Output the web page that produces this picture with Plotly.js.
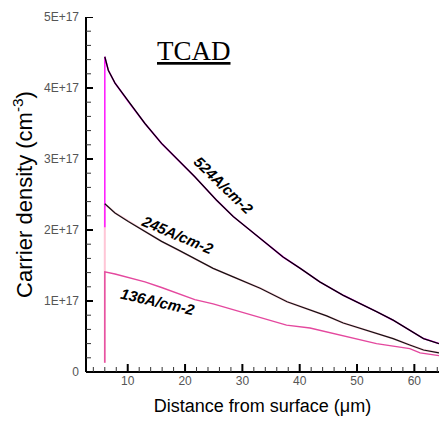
<!DOCTYPE html>
<html>
<head>
<meta charset="utf-8">
<script src="https://cdn.plot.ly/plotly-3.0.1.min.js"></script>
<style>html,body{margin:0;padding:0;background:#fff;}#chart{width:439px;height:427px;}#chart .crisp{shape-rendering:auto !important;}</style>
</head>
<body>
<div id="chart"></div>
<script>
// Distance from surface (um) and carrier density (cm^-3)
const dist524 = [6.0, 6.61, 7.78, 10.1, 13.0, 15.9, 18.8, 21.7, 25.5, 28.4, 31.3, 34.2, 37.1, 40.1, 43.5, 47.6, 50.5, 53.4, 56.3, 59.2, 61.6, 64.3];
const dens524 = [4.44e17, 4.25e17, 4.07e17, 3.81e17, 3.50e17, 3.22e17, 2.99e17, 2.75e17, 2.42e17, 2.19e17, 2.00e17, 1.81e17, 1.62e17, 1.46e17, 1.27e17, 1.08e17, 0.97e17, 0.85e17, 0.73e17, 0.59e17, 0.47e17, 0.40e17];

const dist245 = [6.0, 7.78, 10.1, 13.0, 15.9, 18.8, 21.7, 24.9, 28.4, 33.1, 37.8, 41.8, 44.7, 47.6, 50.5, 53.4, 56.3, 59.2, 61.6, 64.3];
const dens245 = [2.37e17, 2.24e17, 2.12e17, 1.98e17, 1.84e17, 1.72e17, 1.60e17, 1.46e17, 1.34e17, 1.18e17, 0.99e17, 0.88e17, 0.79e17, 0.69e17, 0.62e17, 0.55e17, 0.47e17, 0.38e17, 0.31e17, 0.27e17];

const dist136 = [6.0, 7.78, 10.1, 13.0, 15.9, 18.8, 21.7, 24.9, 31.9, 37.7, 41.8, 47.6, 53.4, 59.2, 61.0, 64.3];
const dens136 = [1.41e17, 1.38e17, 1.33e17, 1.27e17, 1.19e17, 1.11e17, 1.02e17, 0.96e17, 0.80e17, 0.66e17, 0.62e17, 0.51e17, 0.40e17, 0.33e17, 0.27e17, 0.23e17];

// Density just before the surface step at x = 6 um
const surfaceX = 6.0;
const rise524 = 2.04e17;
const rise245 = 0.13e17;
const rise136 = 0.13e17;

const labels = ['524A/cm-2', '245A/cm-2', '136A/cm-2'];

// Axis tick values
const xMajorTicks = [10, 20, 30, 40, 50, 60];
const yMajorTicks = [0, 1e17, 2e17, 3e17, 4e17, 5e17];
const yTickText = ['0', '1E+17', '2E+17', '3E+17', '4E+17', '5E+17'];
const xRange = [2.72, 64.3];
const yRange = [0, 5e17];

function withRise(d, v, r) {
  return {x: [surfaceX].concat(d), y: [r].concat(v)};
}
const s524 = withRise(dist524, dens524, rise524);
const s245 = withRise(dist245, dens245, rise245);
const s136 = withRise(dist136, dens136, rise136);

const traces = [
  {x: s245.x, y: s245.y, mode: 'lines', line: {color: '#ffc6d6', width: 2.0}, name: labels[1] + ' (sim)'},
  {x: s136.x, y: s136.y, mode: 'lines', line: {color: '#e4489e', width: 1.4}, name: labels[2]},
  {x: s524.x, y: s524.y, mode: 'lines', line: {color: '#ff22ff', width: 1.6}, name: labels[0] + ' (sim)'},
  {x: dist524, y: dens524, mode: 'lines', line: {color: '#000', width: 1.3}, name: labels[0]},
  {x: dist245, y: dens245, mode: 'lines', line: {color: '#111', width: 1.2}, name: labels[1]}
];

// Axis frame and tick marks as shapes (built from the tick arrays)
const plotW = 353, plotH = 355;
const shapes = [
  {type: 'line', xref: 'paper', yref: 'paper', x0: 0, x1: 1, y0: 0, y1: 0, line: {color: '#000', width: 2}},
  {type: 'line', xref: 'paper', yref: 'paper', x0: 0, x1: 0, y0: 0, y1: 1, line: {color: '#000', width: 2}}
];
xMajorTicks.forEach(function(v) {
  shapes.push({type: 'line', xref: 'x', yref: 'paper', x0: v, x1: v, y0: 0, y1: 8 / plotH, line: {color: '#000', width: 2}});
});
for (let v = 4; v < xRange[1]; v += 2) {
  if (v % 10 !== 0) shapes.push({type: 'line', xref: 'x', yref: 'paper', x0: v, x1: v, y0: 0, y1: 5 / plotH, line: {color: '#333', width: 1}});
}
yMajorTicks.forEach(function(v) {
  shapes.push({type: 'line', xref: 'paper', yref: 'y', x0: 0, x1: 7 / plotW, y0: v, y1: v, line: {color: '#000', width: 2}});
});
for (let k = 1; k < 25; k++) {
  if (k % 5 !== 0) {
    const v = k * 2e16;
    shapes.push({type: 'line', xref: 'paper', yref: 'y', x0: 0, x1: 5 / plotW, y0: v, y1: v, line: {color: '#333', width: 1}});
  }
}

const tickFont = {family: 'Liberation Sans, Arial, sans-serif', size: 12, color: '#555'};
const labelFont = {family: 'Liberation Sans, Arial, sans-serif', size: 15, color: '#000'};

const layout = {
  width: 439, height: 427,
  margin: {l: 86, r: 0, t: 17, b: 55, pad: 0},
  paper_bgcolor: '#fff', plot_bgcolor: '#fff',
  showlegend: false,
  xaxis: {
    range: xRange, tickmode: 'array', tickvals: xMajorTicks,
    ticks: '', showline: false, showgrid: false, zeroline: false,
    tickfont: tickFont,
    title: {text: 'Distance from surface (μm)', font: {family: 'Liberation Sans, Arial, sans-serif', size: 18, color: '#000'}, standoff: 12}
  },
  yaxis: {
    range: yRange, tickmode: 'array', tickvals: yMajorTicks, ticktext: yTickText,
    ticks: '', showline: false, showgrid: false, zeroline: false,
    tickfont: tickFont, ticklabelstandoff: 6,
    title: {text: 'Carrier density (cm<sup>-3</sup>)', font: {family: 'Liberation Sans, Arial, sans-serif', size: 22, color: '#000'}, standoff: 5}
  },
  shapes: shapes,
  annotations: [
    {text: '<u>TCAD</u>', xref: 'paper', yref: 'paper', x: 0.307, y: 0.905, xanchor: 'center', yanchor: 'middle', showarrow: false,
     font: {family: 'Liberation Serif, Times New Roman, serif', size: 27, color: '#000'}},
    {text: '<b><i>' + labels[0] + '</i></b>', xref: 'x', yref: 'y', x: 26.8, y: 2.63e17, xanchor: 'center', yanchor: 'middle', showarrow: false, textangle: 44, font: labelFont},
    {text: '<b><i>' + labels[1] + '</i></b>', xref: 'x', yref: 'y', x: 18.6, y: 1.93e17, xanchor: 'center', yanchor: 'middle', showarrow: false, textangle: 23, font: labelFont},
    {text: '<b><i>' + labels[2] + '</i></b>', xref: 'x', yref: 'y', x: 15.2, y: 0.99e17, xanchor: 'center', yanchor: 'middle', showarrow: false, textangle: 13, font: labelFont}
  ]
};

Plotly.newPlot('chart', traces, layout, {staticPlot: true, displayModeBar: false});
</script>
</body>
</html>
